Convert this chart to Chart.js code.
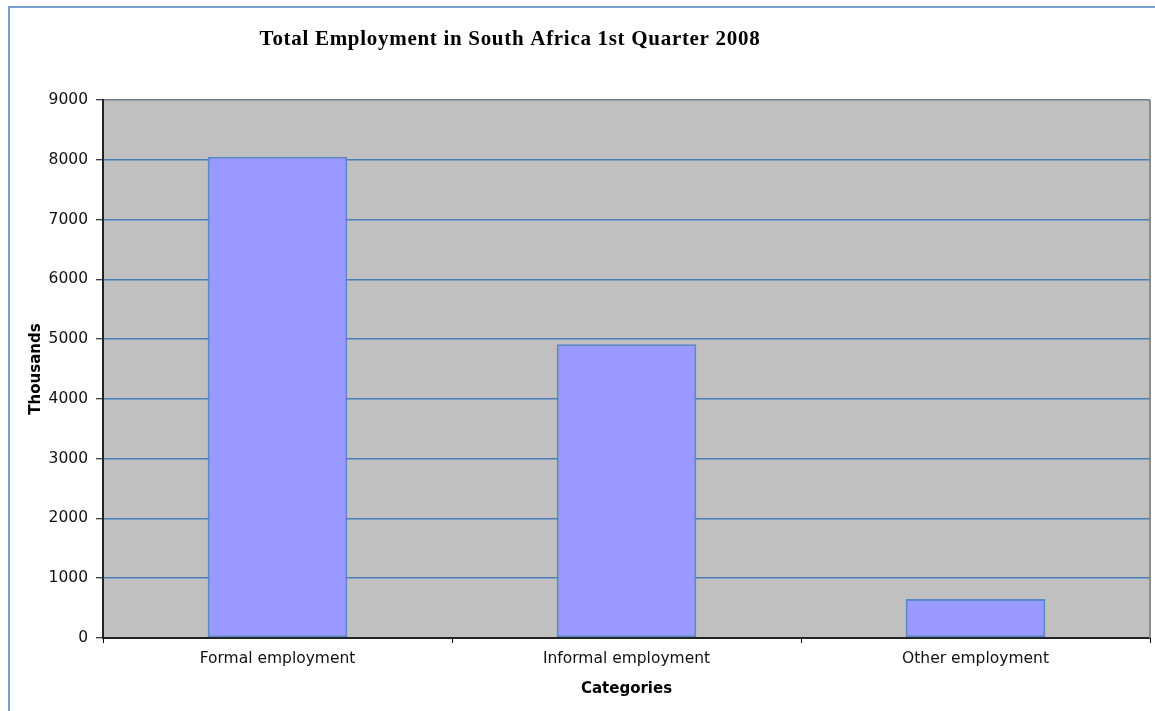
<!DOCTYPE html>
<html>
<head>
<meta charset="utf-8">
<title>Total Employment in South Africa 1st Quarter 2008</title>
<script src="https://cdn.jsdelivr.net/npm/chart.js@4/dist/chart.umd.min.js"></script>
<style>
  html, body { margin: 0; padding: 0; background: #fff; }
  #wrap { width: 1155px; height: 711px; position: relative; }
</style>
</head>
<body>
<div id="wrap"><canvas id="chart"></canvas></div>
<script>
const titleText = 'Total Employment in South Africa 1st Quarter 2008';
const categories = ['Formal employment', 'Informal employment', 'Other employment'];
const employment = [8052, 4913, 652];   // thousands
const yTicks = [0, 1000, 2000, 3000, 4000, 5000, 6000, 7000, 8000, 9000];

const FONT = "'DejaVu Sans', Verdana, sans-serif";

// grey plot background, frame lines and the serif heading
const decor = {
  id: 'decor',
  beforeDraw(chart) {
    const { ctx, chartArea: a } = chart;
    ctx.save();
    ctx.fillStyle = '#c0c0c0';
    ctx.fillRect(a.left, a.top, a.right - a.left, a.bottom - a.top);
    ctx.restore();
  },
  afterDraw(chart) {
    const { ctx, chartArea: a } = chart;
    ctx.save();
    // right edge of plot
    ctx.strokeStyle = '#8c8c8c';
    ctx.lineWidth = 2;
    ctx.beginPath();
    ctx.moveTo(a.right, a.top);
    ctx.lineTo(a.right, a.bottom);
    ctx.stroke();
    // outer frame (top and left)
    ctx.strokeStyle = '#4f81bd';
    ctx.lineWidth = 1.5;
    ctx.beginPath();
    ctx.moveTo(1155, 7);
    ctx.lineTo(9, 7);
    ctx.lineTo(9, 711);
    ctx.stroke();
    // heading
    ctx.fillStyle = '#000';
    ctx.font = "bold 21px 'Liberation Serif', 'Times New Roman', serif";
    if ('letterSpacing' in ctx) ctx.letterSpacing = '0.7px';
    ctx.textAlign = 'center';
    ctx.textBaseline = 'alphabetic';
    ctx.fillText(titleText, 510, 45);
    ctx.restore();
  }
};

new Chart(document.getElementById('chart'), {
  type: 'bar',
  data: {
    labels: categories,
    datasets: [{
      data: employment,
      backgroundColor: '#9999ff',
      borderColor: '#5a88c8',
      borderWidth: 2,
      borderSkipped: false,
      barPercentage: 0.4,
      categoryPercentage: 1
    }]
  },
  options: {
    responsive: true, maintainAspectRatio: false,
    animation: false,
    layout: { padding: { top: 100, left: 10, right: 5, bottom: 0 } },
    plugins: { legend: { display: false }, tooltip: { enabled: false } },
    scales: {
      x: {
        grid: { drawOnChartArea: false, tickLength: 5, tickColor: '#000', tickWidth: 1 },
        border: { color: '#222', width: 2 },
        ticks: { color: '#111', font: { family: FONT, size: 15.5 }, padding: 7, maxRotation: 0 },
        title: { display: true, text: 'Categories', color: '#000',
                 font: { family: FONT, size: 15, weight: 'bold' }, padding: { top: 4, bottom: 13 } },
        afterFit(scale) { scale.height = 73; }
      },
      y: {
        min: 0, max: 9000,
        afterBuildTicks(scale) { scale.ticks = yTicks.map(v => ({ value: v })); },
        grid: {
          color: ctx => (ctx.tick && ctx.tick.value === 9000) ? '#6d7b8d' : '#4a7ebb',
          lineWidth: 1.5, tickLength: 7, tickColor: '#000', tickWidth: 1
        },
        border: { color: '#222', width: 2 },
        ticks: { color: '#111', font: { family: FONT, size: 15.5 }, padding: 8,
                 callback: v => String(v) },
        title: { display: true, text: 'Thousands', color: '#000',
                 font: { family: FONT, size: 15, weight: 'bold' }, padding: { top: 17, bottom: 4 } },
        afterFit(scale) { scale.width = 93; }
      }
    }
  },
  plugins: [decor]
});
</script>
</body>
</html>
